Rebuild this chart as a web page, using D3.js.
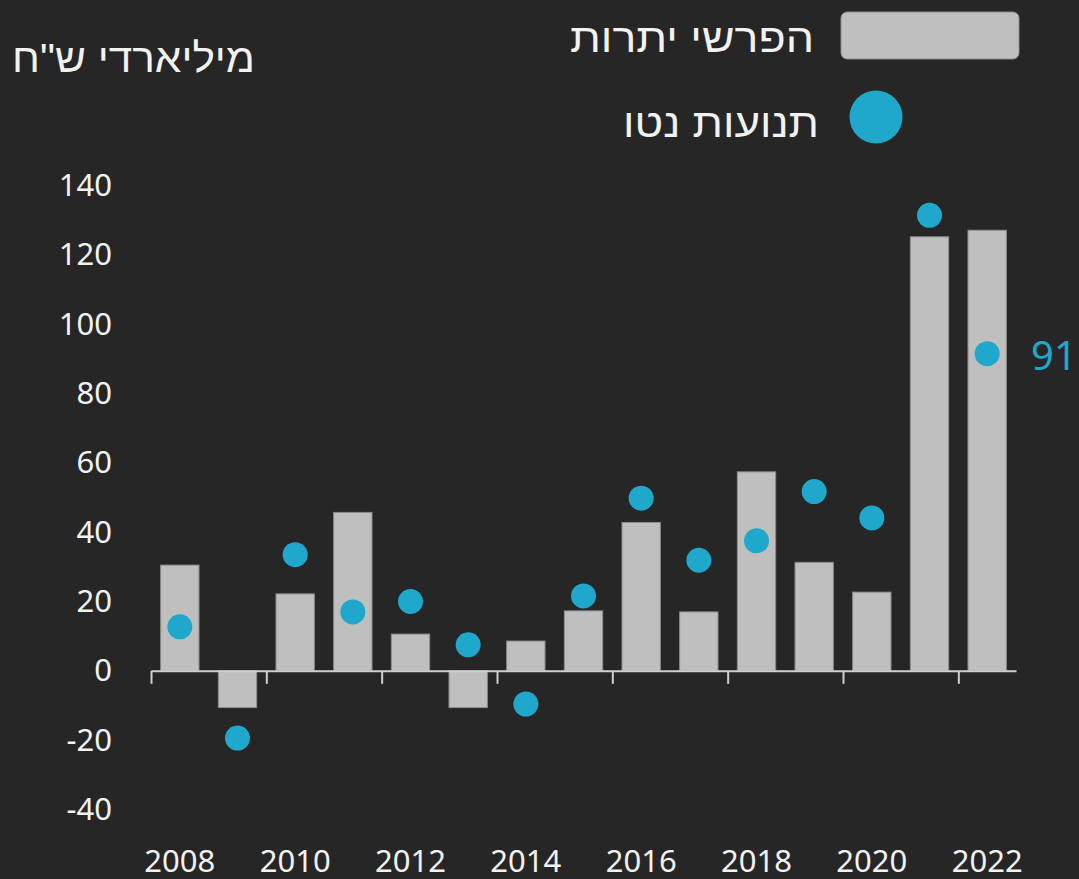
<!DOCTYPE html>
<html>
<head>
<meta charset="utf-8">
<script src="https://cdn.jsdelivr.net/npm/d3@7"></script>
<style>
  body { margin: 0; background: #262626; }
  svg { display: block; }
  .tick text { fill: #f2f2f2; font-family: "Noto Sans", sans-serif; }
</style>
</head>
<body>
<div id="chart"></div>
<script>
// data (billions of shekels)
var years = [2008, 2009, 2010, 2011, 2012, 2013, 2014, 2015, 2016, 2017, 2018, 2019, 2020, 2021, 2022];
var surplus = [30.5, -10.6, 22.2, 45.7, 10.6, -10.6, 8.6, 17.3, 42.8, 17.0, 57.4, 31.3, 22.7, 125.2, 127.1];
var netFlows = [12.7, -19.4, 33.5, 17.0, 20.0, 7.5, -9.6, 21.6, 49.8, 31.9, 37.5, 51.7, 44.1, 131.4, 91.5];
var yTicks = [-40, -20, 0, 20, 40, 60, 80, 100, 120, 140];
var xLabelYears = [2008, 2010, 2012, 2014, 2016, 2018, 2020, 2022];

var width = 1079;
var height = 879;

var barColor = '#bfbfbf';
var dotColor = '#1fa8cc';
var hebFont = '"Liberation Sans", "DejaVu Sans", sans-serif';

var svg = d3.select('#chart').append('svg')
    .attr('width', width)
    .attr('height', height);

svg.append('rect')
    .attr('width', width).attr('height', height)
    .style('fill', '#262626');

// SCALES
var x = d3.scaleBand()
    .domain(years)
    .range([151, 1016])
    .paddingInner(0.335)
    .paddingOuter(0.1675);

// continuous version of the same axis, used for the boundary ticks
var xEdge = d3.scaleLinear()
    .domain([2008, 2023])
    .range([151, 1016]);

var y = d3.scaleLinear()
    .domain([-40, 140])
    .range([809.5, 185.5]);

// Y AXIS (labels only), plain hyphen for negatives like the original
var yAxis = svg.append('g')
    .attr('transform', 'translate(118,0)')
    .call(d3.axisLeft(y).tickValues(yTicks).tickSize(0).tickPadding(6)
        .tickFormat(function(d) { return String(d); }));
yAxis.select('.domain').remove();
yAxis.selectAll('text').style('font-size', '31px');

// BARS
svg.selectAll('.bar')
    .data(years)
    .enter().append('rect')
    .attr('class', 'bar')
    .attr('x', function(d) { return x(d); })
    .attr('width', x.bandwidth())
    .attr('y', function(d, i) { return y(Math.max(0, surplus[i])); })
    .attr('height', function(d, i) { return Math.abs(y(surplus[i]) - y(0)); })
    .style('fill', barColor)
    .style('stroke', '#8c8c8c')
    .style('stroke-width', 1);

// X AXIS: ticks on band edges, labels on band centres
var xAxis = svg.append('g')
    .attr('transform', 'translate(0,' + y(0) + ')')
    .call(d3.axisBottom(xEdge).tickValues(xLabelYears).tickSize(13).tickSizeOuter(0).tickFormat(''));
xAxis.select('.domain').style('stroke', '#d0d0d0').style('stroke-width', 2);
xAxis.selectAll('.tick line').style('stroke', '#d0d0d0').style('stroke-width', 2);

svg.selectAll('.xlabel')
    .data(xLabelYears)
    .enter().append('text')
    .attr('class', 'xlabel')
    .attr('x', function(d) { return x(d) + x.bandwidth() / 2; })
    .attr('y', 872)
    .attr('text-anchor', 'middle')
    .style('fill', '#f2f2f2')
    .style('font-family', '"Noto Sans", sans-serif')
    .style('font-size', '31px')
    .text(function(d) { return d; });

// DOTS
svg.selectAll('.dot')
    .data(years)
    .enter().append('circle')
    .attr('class', 'dot')
    .attr('cx', function(d) { return x(d) + x.bandwidth() / 2; })
    .attr('cy', function(d, i) { return y(netFlows[i]); })
    .attr('r', 12.5)
    .style('fill', dotColor);

// label on the last dot
var last = years.length - 1;
svg.append('text')
    .attr('x', 1031)
    .attr('y', y(netFlows[last]) + 16)
    .style('fill', dotColor)
    .style('font-family', '"Noto Sans", sans-serif')
    .style('font-size', '40px')
    .text(Math.floor(netFlows[last]));

// UNIT TITLE
svg.append('text')
    .attr('x', 12)
    .attr('y', 72)
    .attr('text-anchor', 'start')
    .attr('textLength', 243)
    .attr('lengthAdjust', 'spacingAndGlyphs')
    .style('fill', '#f2f2f2')
    .style('font-family', hebFont)
    .style('font-size', '40px')
    .text('מיליארדי ש"ח');

// LEGEND
svg.append('rect')
    .attr('x', 841).attr('y', 12)
    .attr('width', 178).attr('height', 47)
    .attr('rx', 6)
    .style('fill', barColor)
    .style('stroke', '#8c8c8c');

svg.append('text')
    .attr('x', 570)
    .attr('y', 52)
    .attr('textLength', 244)
    .attr('lengthAdjust', 'spacingAndGlyphs')
    .style('fill', '#f2f2f2')
    .style('font-family', hebFont)
    .style('font-size', '40px')
    .text('הפרשי יתרות');

svg.append('circle')
    .attr('cx', 876).attr('cy', 117)
    .attr('r', 26.5)
    .style('fill', dotColor);

svg.append('text')
    .attr('x', 623)
    .attr('y', 137)
    .attr('textLength', 196)
    .attr('lengthAdjust', 'spacingAndGlyphs')
    .style('fill', '#f2f2f2')
    .style('font-family', hebFont)
    .style('font-size', '40px')
    .text('תנועות נטו');
</script>
</body>
</html>
